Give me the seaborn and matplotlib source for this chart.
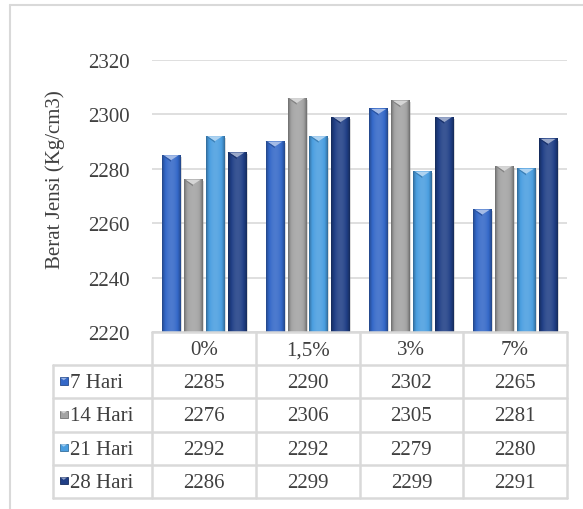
import numpy as np
import pandas as pd
import matplotlib
matplotlib.use("Agg")
import matplotlib.pyplot as plt
import seaborn as sns
from matplotlib.patches import Polygon, Rectangle
from matplotlib.lines import Line2D
from matplotlib.colors import to_rgb

# Data: bulk density of concrete by additive level and curing age
categories = ["0%", "1,5%", "3%", "7%"]
series = ["7 Hari", "14 Hari", "21 Hari", "28 Hari"]
hari7 = [2285, 2290, 2302, 2265]
hari14 = [2276, 2306, 2305, 2281]
hari21 = [2292, 2292, 2279, 2280]
hari28 = [2286, 2299, 2299, 2291]
yticks = [2220, 2240, 2260, 2280, 2300, 2320]
ylabel = "Berat Jensi (Kg/cm3)"

colors = ["#3468c8", "#a3a3a3", "#4a9ee0", "#203f86"]
text_color = "#404040"
line_color = "#d9d9d9"

sns.set_theme(style="white")
plt.rcParams["font.family"] = ["Liberation Serif", "DejaVu Serif"]

values = [hari7, hari14, hari21, hari28]
df = pd.DataFrame({
    "Kadar": np.tile(categories, len(series)),
    "Umur": np.repeat(series, len(categories)),
    "Berat": np.concatenate(values),
})

W, H = 583, 510
fig = plt.figure(figsize=(W / 100, H / 100), dpi=100)
fig.patch.set_facecolor("white")

# plot area (pixel layout)
px_l, px_r, px_t, px_b = 152, 567, 61, 333
ax = fig.add_axes([px_l / W, 1 - px_b / H, (px_r - px_l) / W, (px_b - px_t) / H])

sns.barplot(data=df, x="Kadar", y="Berat", hue="Umur", order=categories,
            hue_order=series, palette=colors, width=0.845, gap=0.17,
            saturation=1, linewidth=0, legend=False, ax=ax)

ymin, ymax = yticks[0], yticks[-1]
ax.set_ylim(ymin, ymax)
ax.set_xlim(-0.5, len(categories) - 0.5)
ax.set_yticks(yticks)
ax.yaxis.grid(True, color=line_color, lw=1.2)
ax.set_axisbelow(True)
for s in ax.spines.values():
    s.set_visible(False)
ax.set_xticks([])
ax.set_xlabel("")
ax.set_ylabel("")
ax.tick_params(axis="y", length=0, pad=16, labelsize=15, labelcolor=text_color)


def mix(c, target, a):
    c = np.asarray(c)
    return c + (np.asarray(target) - c) * a


# cylinder-like shading with a bevelled top on every bar
units_per_px = (ymax - ymin) / (px_b - px_t)
t = np.linspace(0, 1, 80)
prof = np.sin(np.pi * t) ** 0.8
pal_rgb = [np.array(to_rgb(c)) for c in colors]
for bar in list(ax.patches):
    fc = np.array(bar.get_facecolor()[:3])
    k = int(np.argmin([np.sum((fc - p) ** 2) for p in pal_rgb]))
    base = pal_rgb[k]
    x0, w = bar.get_x(), bar.get_width()
    top = bar.get_y() + bar.get_height()
    rows = []
    for p in prof:
        if p < 0.6:
            rows.append(mix(base, (0, 0, 0), 0.35 * (0.6 - p) / 0.6))
        else:
            rows.append(mix(base, (1, 1, 1), 0.12 * (p - 0.6) / 0.4))
    img = np.clip(np.array(rows), 0, 1)[None, :, :]
    # soft shadow on the right
    ax.add_patch(Rectangle((x0 + w * 0.12, ymin), w * 0.98, top - ymin - 0.6,
                           facecolor="#9a9a9a", alpha=0.35, lw=0, zorder=2))
    ax.imshow(img, extent=(x0, x0 + w, ymin, top), aspect="auto",
              interpolation="bilinear", zorder=3)
    bar.set_visible(False)
    h = 5 * units_per_px
    tri = Polygon([(x0 + w * 0.08, top), (x0 + w * 0.92, top), (x0 + w / 2, top - h)],
                  closed=True, facecolor=mix(base, (1, 1, 1), 0.55), lw=0, zorder=4)
    ax.add_patch(tri)
    ax.add_patch(Polygon([(x0, top), (x0 + w * 0.08, top), (x0 + w / 2, top - h),
                          (x0 + w / 2, top - h - 0.6)],
                         closed=True, facecolor=mix(base, (0, 0, 0), 0.2), lw=0, zorder=4))

ax.set_xlim(-0.5, len(categories) - 0.5)
ax.set_ylim(ymin, ymax)

# y axis title
fig.text(55 / W, 1 - 180 / H, ylabel, rotation=90, ha="center", va="center",
         fontsize=15, color=text_color)

# data table under the plot
tx_l, tx_b = 53, 499
tax = fig.add_axes([tx_l / W, 1 - tx_b / H, (px_r - tx_l) / W, (tx_b - px_b) / H])
tax.set_xlim(tx_l, px_r)
tax.set_ylim(tx_b, px_b)
tax.axis("off")

ncol = len(categories)
col_edges = np.linspace(px_l, px_r, ncol + 1)
nrow = len(series) + 1
row_edges = np.linspace(px_b, tx_b, nrow + 1)
lw = 1.8
# header row lines
tax.plot([px_l, px_r], [px_b, px_b], color=line_color, lw=lw, clip_on=False)
for x in col_edges:
    tax.plot([x, x], [px_b, tx_b], color=line_color, lw=lw, clip_on=False)
for y in row_edges[1:]:
    tax.plot([tx_l, px_r], [y, y], color=line_color, lw=lw, clip_on=False)
tax.plot([tx_l, tx_l], [row_edges[1], tx_b], color=line_color, lw=lw, clip_on=False)

for j, cat in enumerate(categories):
    cx = (col_edges[j] + col_edges[j + 1]) / 2
    cy = (row_edges[0] + row_edges[1]) / 2
    tax.text(cx, cy + 1, cat, ha="center", va="center", fontsize=15, color=text_color)

for i, (name, vals) in enumerate(zip(series, values)):
    cy = (row_edges[i + 1] + row_edges[i + 2]) / 2
    base = pal_rgb[i]
    tax.add_patch(Rectangle((60, cy - 4.5), 7.5, 7.5, facecolor=base,
                            edgecolor=mix(base, (0, 0, 0), 0.3), lw=0.6, zorder=3))
    tax.add_patch(Polygon([(60.5, cy - 4), (67, cy - 4), (63.75, cy - 1.5)],
                          facecolor=mix(base, (1, 1, 1), 0.5), lw=0, zorder=4))
    tax.text(69.5, cy + 1, name, ha="left", va="center", fontsize=15, color=text_color)
    for j, v in enumerate(vals):
        cx = (col_edges[j] + col_edges[j + 1]) / 2
        tax.text(cx, cy + 1, f"{v}", ha="center", va="center", fontsize=15, color=text_color)

# chart frame
fig.add_artist(Line2D([10 / W, 1.0], [1 - 6 / H, 1 - 6 / H], color=line_color, lw=1.5))
fig.add_artist(Line2D([10 / W, 10 / W], [0, 1 - 6 / H], color=line_color, lw=1.5))

fig.savefig("out.png", dpi=100, facecolor="white")
